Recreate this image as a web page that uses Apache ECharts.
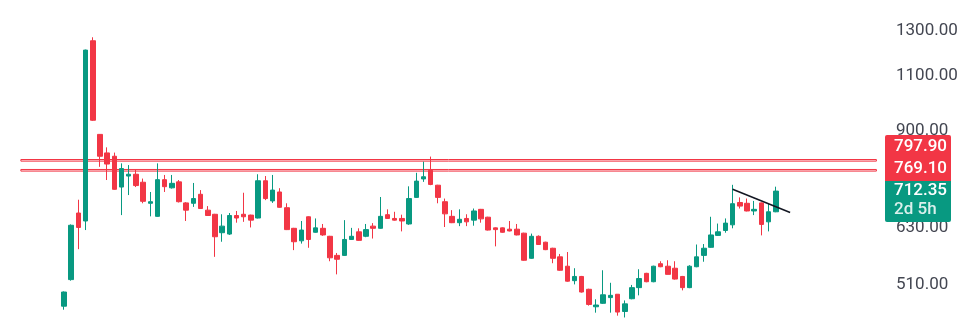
<!DOCTYPE html>
<html>
<head>
<meta charset="utf-8">
<script src="https://cdn.jsdelivr.net/npm/echarts@6/dist/echarts.min.js"></script>
<style>
html,body{margin:0;padding:0;background:#fff;}
#chart{width:966px;height:336px;}
</style>
</head>
<body>
<div id="chart"></div>
<script>
// ---- data ----
const opens  = [466,514,657,638,1240,878,820,810,723,753,758,736,681,649,743,721,737,682,681,704,664,654,611,608,651,654,652,645,740,687,710,670,621,593,648,612,621,603,562,562,596,613,603,626,621,653,644,644,631,696,745,769,728,685,649,634,644,640,666,647,622,622,619,619,610,556,603,590,577,559,540,512,520,496,465,471,481,487,457,479,499,526,510,545,540,536,520,499,539,562,579,605,616,629,683,681,662,682,636,660];
const closes = [491,628,623,1198,925,810,787,717,774,758,727,686,685,743,724,733,685,664,693,668,651,602,626,651,645,648,640,740,693,715,671,618,591,617,596,622,606,557,554,596,603,594,618,621,649,644,640,638,693,739,751,730,696,655,634,642,636,662,643,617,618,612,615,606,552,603,585,574,556,532,511,520,491,469,468,486,485,456,470,499,516,510,540,539,524,515,499,540,559,577,606,613,633,680,674,662,666,630,660,712.35];
const lows   = [460,512,575,617,923,779,742,716,652,702,723,681,649,648,710,719,683,638,672,667,650,559,591,606,634,636,623,644,689,682,670,617,573,587,578,611,604,550,524,561,595,593,601,598,620,643,639,614,629,695,737,728,681,624,633,626,626,627,634,616,581,611,614,605,551,555,584,573,546,531,510,505,490,467,455,470,455,450,447,478,485,509,509,538,524,514,494,498,538,549,578,604,611,621,668,661,652,605,614,659];
const highs  = [492,630,690,1200,1256,879,837,821,789,784,770,746,710,789,756,756,742,684,734,715,674,655,654,657,662,708,653,758,753,756,720,681,622,638,649,644,631,604,567,640,622,621,631,633,697,666,660,653,725,762,794,809,729,693,664,666,654,668,667,648,623,623,638,631,611,609,605,591,578,565,569,536,521,497,478,532,508,487,476,504,534,527,541,550,552,550,521,542,585,586,648,632,644,729,696,693,687,683,681,724];

const yTicks = [1300, 1100, 900, 630, 510];
const levels = [797.90, 769.10];          // horizontal levels
const lastPrice = 712.35;
const countdown = '2d 5h';
const trendStart = [93, 717];              // [candle index, price]
const trendEnd   = [101, 658];

// ---- layout helpers ----
const padLeft = 8, totalSlots = 122;
const cats = [];
for (let i = 0; i < totalSlots; i++) cats.push(String(i));
const ohlc = [];
for (let i = 0; i < totalSlots; i++) {
  const k = i - padLeft;
  if (k >= 0 && k < opens.length) ohlc.push([opens[k], closes[k], lows[k], highs[k]]);
  else ohlc.push(['-', '-', '-', '-']);
}
const UP = '#089981', DOWN = '#F23645';

const chart = echarts.init(document.getElementById('chart'));
const fnt = 'Roboto, "Noto Sans", sans-serif';
chart.setOption({
  animation: false,
  grid: { left: 2.9, right: 86, top: 0, bottom: 0 },
  xAxis: {
    type: 'category', data: cats, boundaryGap: true,
    axisLine: { show: false }, axisTick: { show: false }, axisLabel: { show: false }, splitLine: { show: false }
  },
  yAxis: {
    type: 'log', position: 'right', min: 417.5, max: 1441,
    axisLine: { show: false }, axisTick: { show: false }, splitLine: { show: false },
    axisLabel: {
      customValues: yTicks, margin: 16,
      formatter: v => '{t|' + Number(v).toFixed(2) + '}',
      rich: { t: { fontSize: 17, color: '#434651', fontFamily: fnt, padding: [6, 0, 0, 0] } }
    }
  },
  series: [{
    type: 'candlestick',
    data: ohlc,
    barWidth: 5,
    itemStyle: { color: UP, color0: DOWN, borderColor: UP, borderColor0: DOWN, borderWidth: 1 },
    markArea: {
      silent: true,
      itemStyle: { color: 'rgba(242,54,69,0.12)', borderColor: '#F23645', borderWidth: 1, opacity: 1 },
      label: { show: false },
      data: levels.map(v => [{ coord: [2, v * 1.003] }, { coord: [totalSlots - 1, v / 1.003] }])
    },
    markLine: {
      silent: true, symbol: 'none', label: { show: false },
      lineStyle: { color: '#131722', width: 1.6, type: 'solid' },
      data: [[{ coord: [trendStart[0] + padLeft, trendStart[1]] }, { coord: [trendEnd[0] + padLeft, trendEnd[1]] }]]
    }
  }],
  graphic: [
    { type: 'rect', z: 100, shape: { x: 885, y: 135, width: 66, height: 46, r: [2, 2, 0, 0] }, style: { fill: DOWN } },
    { type: 'rect', z: 100, shape: { x: 885, y: 181, width: 66, height: 41, r: [0, 0, 2, 2] }, style: { fill: UP } },
    { type: 'text', z: 101, x: 894, y: 147, style: { text: levels[0].toFixed(2), fill: '#fff', font: '500 17px ' + fnt, verticalAlign: 'middle' } },
    { type: 'text', z: 101, x: 894, y: 169, style: { text: levels[1].toFixed(2), fill: '#fff', font: '500 17px ' + fnt, verticalAlign: 'middle' } },
    { type: 'text', z: 101, x: 894, y: 191, style: { text: lastPrice.toFixed(2), fill: '#fff', font: '500 17px ' + fnt, verticalAlign: 'middle' } },
    { type: 'text', z: 101, x: 894, y: 210, style: { text: countdown, fill: 'rgba(255,255,255,0.85)', font: '500 17px ' + fnt, verticalAlign: 'middle' } }
  ]
});
</script>
</body>
</html>
